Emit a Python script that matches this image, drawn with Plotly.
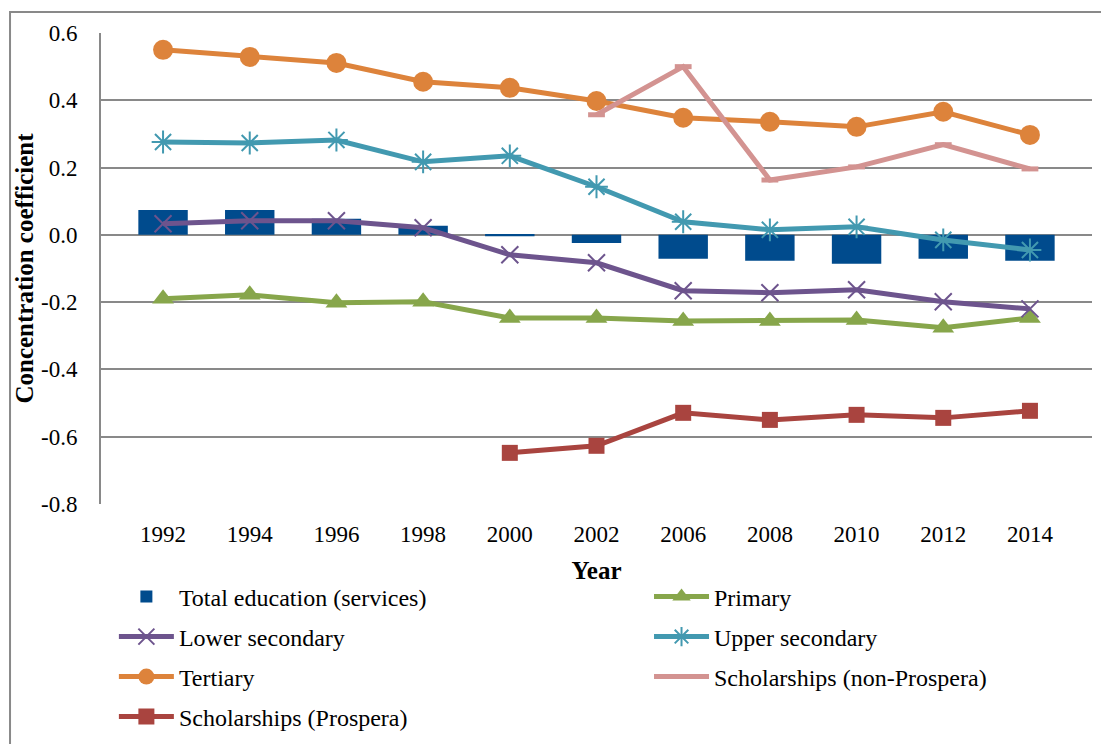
import plotly.graph_objects as go

years = ['1992', '1994', '1996', '1998', '2000', '2002', '2006', '2008', '2010', '2012', '2014']

total_education = [0.074, 0.074, 0.048, 0.027, -0.004, -0.024, -0.071, -0.077, -0.086, -0.071, -0.077]
primary = [-0.190, -0.178, -0.202, -0.199, -0.247, -0.247, -0.256, -0.256, -0.253, -0.276, -0.247]
lower_secondary = [0.033, 0.042, 0.042, 0.021, -0.059, -0.083, -0.166, -0.172, -0.163, -0.199, -0.220]
upper_secondary = [0.276, 0.273, 0.282, 0.217, 0.235, 0.143, 0.039, 0.015, 0.024, -0.015, -0.045]
tertiary = [0.550, 0.529, 0.511, 0.455, 0.437, 0.398, 0.348, 0.336, 0.321, 0.366, 0.297]
sch_non_prospera = [None, None, None, None, None, 0.357, 0.500, 0.163, 0.202, 0.268, 0.196]
sch_prospera = [None, None, None, None, -0.648, -0.627, -0.529, -0.550, -0.535, -0.544, -0.523]

y_ticks = [0.6, 0.4, 0.2, 0.0, -0.2, -0.4, -0.6, -0.8]
y_tick_text = ['0.6', '0.4', '0.2', '0.0', '-0.2', '-0.4', '-0.6', '-0.8']

FONT = 'Liberation Serif, Times New Roman, serif'
GRID = '#898989'

# legend slot (column x, row y) in paper coords, one legend per trace
COL = [0.013, 0.553]
ROW = [-0.1975, -0.2824, -0.3673, -0.4522]

fig = go.Figure()

fig.add_trace(go.Bar(
    x=years, y=total_education, name='Total education (services)',
    marker=dict(color='#004B8D', line=dict(width=0)), width=0.57,
    legend='legend',
))

line_series = [
    ('Primary', primary, '#87A64B', dict(symbol='triangle-up', size=19)),
    ('Lower secondary', lower_secondary, '#6D548D',
     dict(symbol='x-thin-open', size=17, line=dict(width=2, color='#6D548D'))),
    ('Upper secondary', upper_secondary, '#4299B0',
     dict(symbol='asterisk-open', size=19, line=dict(width=2, color='#4299B0'))),
    ('Tertiary', tertiary, '#DD833B', dict(symbol='circle', size=20)),
    ('Scholarships (non-Prospera)', sch_non_prospera, '#D39391',
     dict(symbol='line-ew-open', size=12, line=dict(width=5, color='#D39391'))),
    ('Scholarships (Prospera)', sch_prospera, '#A9443F', dict(symbol='square', size=16)),
]

for i, (name, values, color, marker) in enumerate(line_series, start=2):
    marker = dict(marker)
    marker.setdefault('color', color)
    fig.add_trace(go.Scatter(
        x=years, y=values, name=name, mode='lines+markers',
        line=dict(color=color, width=5), marker=marker, legend=f'legend{i}',
    ))

legends = {}
for i in range(7):
    key = 'legend' if i == 0 else f'legend{i + 1}'
    legends[key] = dict(
        x=COL[i % 2], y=ROW[i // 2], xanchor='left', yanchor='middle',
        itemwidth=55,
        font=dict(family=FONT, size=24, color='black'),
        bgcolor='rgba(0,0,0,0)', borderwidth=0,
    )

fig.update_layout(
    width=1101, height=736,
    margin=dict(l=93, r=17, t=25, b=240, autoexpand=False),
    paper_bgcolor='white', plot_bgcolor='white',
    font=dict(family=FONT, size=23, color='black'),
    barmode='overlay',
    showlegend=True,
    xaxis=dict(
        type='category', categoryorder='array', categoryarray=years,
        showgrid=False, showline=False, ticks='', zeroline=False,
        tickfont=dict(family=FONT, size=23), ticklabelstandoff=14,
        title=dict(text='<b>Year</b>', font=dict(family=FONT, size=25), standoff=15),
    ),
    yaxis=dict(
        range=[-0.8, 0.6], tickvals=y_ticks, ticktext=y_tick_text,
        showgrid=True, gridcolor=GRID, gridwidth=2,
        zeroline=False, showline=True, linecolor=GRID, linewidth=2,
        ticks='', tickfont=dict(family=FONT, size=23), ticklabelstandoff=17,
        title=dict(text='<b>Concentration coefficient</b>', font=dict(family=FONT, size=25), standoff=0),
    ),
    shapes=[
        dict(type='rect', xref='paper', yref='paper',
             x0=-0.0918, x1=1.03, y0=-0.53, y1=1.0446,
             line=dict(color=GRID, width=2), layer='below'),
    ],
    **legends,
)

fig.write_html('out.html')
